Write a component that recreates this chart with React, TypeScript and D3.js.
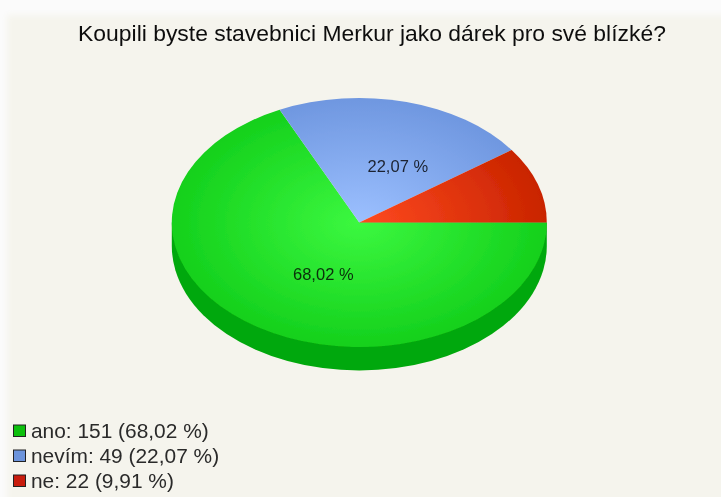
import React from "react";
import * as d3 from "d3";

const title = "Koupili byste stavebnici Merkur jako dárek pro své blízké?";
const categories = ["ano", "nevím", "ne"];
const counts = [151, 49, 22];
const percentLabels = ["68,02 %", "22,07 %", "9,91 %"];
const edgeColors = ["#14d01c", "#6f97e0", "#c92400"];
const centreColors = ["#3cf840", "#9cc0ff", "#ff4a20"];
const swatchColors = ["#0cc010", "#6c94dc", "#c81c08"];

const W = 721;
const H = 497;
const cx = 359.3;
const cy = 222.5;
const rx = 187.5;
const ry = 124.5;
const depth = 23.5;
const font = "'Liberation Sans', Arial, sans-serif";

// Slices run clockwise from three o'clock, in category order.
const slices = d3
  .pie<number>()
  .sort(null)
  .startAngle(Math.PI / 2)
  .endAngle(Math.PI / 2 + 2 * Math.PI)(counts);
const arc = d3.arc<d3.PieArcDatum<number>>().innerRadius(0).outerRadius(rx);

// Visible wall of the disc, under the lower half of the top face.
const wall = d3.path();
wall.moveTo(cx - rx, cy);
wall.lineTo(cx - rx, cy + depth);
const wallPath =
  wall.toString() +
  `A${rx},${ry} 0 0 0 ${cx + rx},${cy + depth}L${cx + rx},${cy}Z`;

const sliceLabels = [
  { index: 0, x: cx - 36, y: cy + 51.5 },
  { index: 1, x: cx + 38.5, y: cy - 56.5 },
];

export default function App() {
  return (
    <svg
      width={W}
      height={H}
      viewBox={`0 0 ${W} ${H}`}
      style={{ position: "absolute", left: 0, top: 0, display: "block" }}
    >
      <defs>
        <filter id="soft" x="-5%" y="-5%" width="110%" height="110%">
          <feGaussianBlur stdDeviation="3" />
        </filter>
        <filter id="lens" x="-5%" y="-5%" width="110%" height="110%">
          <feGaussianBlur stdDeviation="0.55" />
        </filter>
        {categories.map((c, i) => (
          <radialGradient
            key={c}
            id={`slice-${i}`}
            gradientUnits="userSpaceOnUse"
            cx={0}
            cy={0}
            r={rx}
          >
            <stop offset="0%" stopColor={centreColors[i]} />
            <stop offset="100%" stopColor={edgeColors[i]} />
          </radialGradient>
        ))}
      </defs>
      <rect width={W} height={H} fill="#fbfbfb" />
      <rect x={7} y={15} width={W + 20} height={H} fill="#f5f4ed" filter="url(#soft)" />
      <g filter="url(#lens)">
        <text
          x={372}
          y={41}
          textAnchor="middle"
          fontFamily={font}
          fontSize={22.9}
          fill="#111"
        >
          {title}
        </text>
        <path d={wallPath} fill="#05a80a" />
        <g transform={`translate(${cx},${cy}) scale(1,${ry / rx})`}>
          {slices.map((s, i) => (
            <path key={categories[i]} d={arc(s) ?? ""} fill={`url(#slice-${i})`} />
          ))}
        </g>
        {sliceLabels.map((l) => (
          <text
            key={l.index}
            x={l.x}
            y={l.y}
            dy="0.35em"
            textAnchor="middle"
            fontFamily={font}
            fontSize={16.5}
            fill="#000"
            fillOpacity={0.8}
          >
            {percentLabels[l.index]}
          </text>
        ))}
        {categories.map((c, i) => {
          const y = 431 + i * 25;
          return (
            <g key={c}>
              <rect
                x={13.5}
                y={y - 6}
                width={12}
                height={11.5}
                fill={swatchColors[i]}
                stroke="#222"
                strokeWidth={1}
              />
              <text
                x={31}
                y={y}
                dy="0.35em"
                fontFamily={font}
                fontSize={20.9}
                fill="#2a2a2a"
              >
                {`${c}: ${counts[i]} (${percentLabels[i]})`}
              </text>
            </g>
          );
        })}
      </g>
    </svg>
  );
}
